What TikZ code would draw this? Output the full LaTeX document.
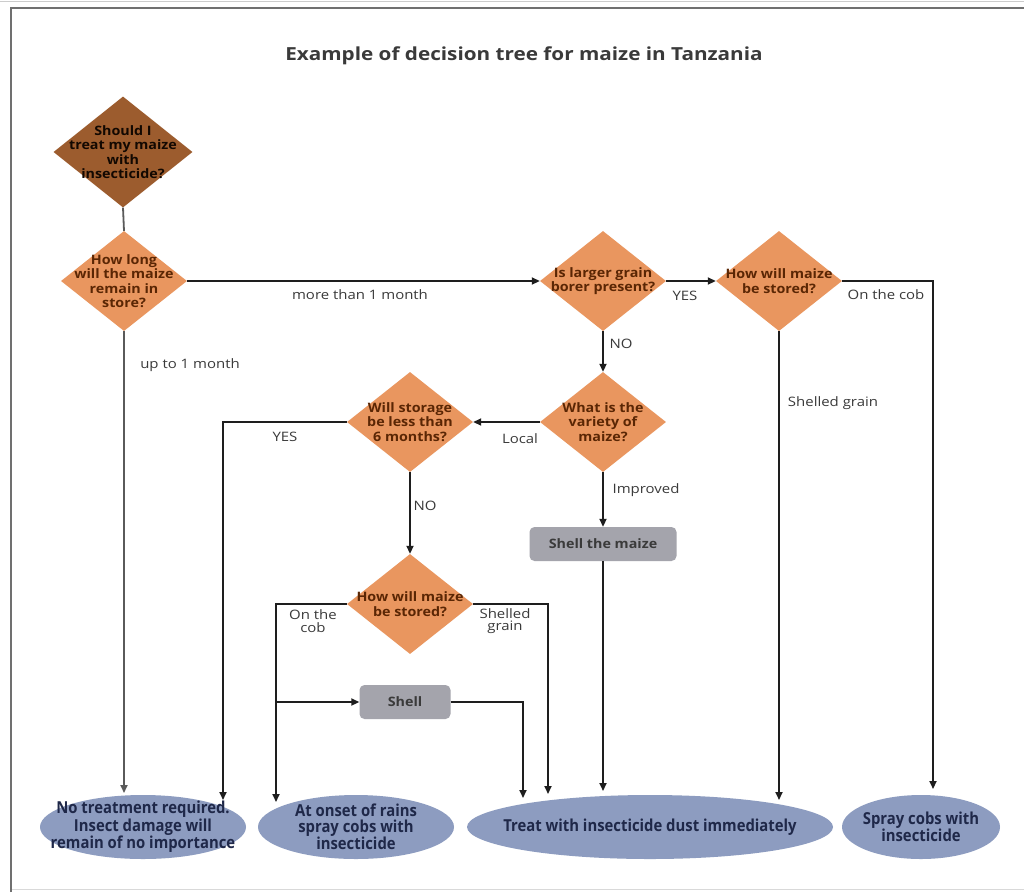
\documentclass[tikz,border=0pt]{standalone}
\usepackage{fontspec}
\setmainfont{Open Sans}
\newfontfamily\lblfont{Open Sans}[FakeStretch=1.15]
\newfontfamily\diafont{Open Sans}[FakeStretch=1.1]
\newfontfamily\elfont{Open Sans}[FakeStretch=0.9]
\usetikzlibrary{shapes.geometric,arrows.meta}
\definecolor{brownD}{HTML}{9C5C2E}
\definecolor{orangeD}{HTML}{E9965F}
\definecolor{greyB}{HTML}{A4A4AC}
\definecolor{blueE}{HTML}{8D9CC0}
\definecolor{brownT}{HTML}{5A2604}
\definecolor{navyT}{HTML}{1F2849}
\definecolor{lineC}{HTML}{1E1E1E}
\definecolor{greyL}{HTML}{5A5A5A}
\definecolor{labelC}{HTML}{3A3A3A}
\definecolor{frameC}{HTML}{707070}
\begin{document}
\begin{tikzpicture}[x=1pt,y=-1pt,
  dia/.style={diamond, fill=orangeD, draw=none, inner sep=0pt, minimum width=126pt, minimum height=100pt},
  dtext/.style={font=\diafont\bfseries\fontsize{13}{14.5}\selectfont, text=brownT, align=center, inner sep=0pt},
  ell/.style={ellipse, fill=blueE, draw=none, inner sep=0pt, minimum height=64pt},
  etext/.style={font=\elfont\bfseries\fontsize{16.5}{15.5}\selectfont, text=navyT, align=center, inner sep=0pt},
  box/.style={rectangle, rounded corners=5pt, fill=greyB, draw=none, minimum height=34pt, inner sep=0pt,
    font=\diafont\bfseries\fontsize{13}{14.5}\selectfont, text=labelC},
  lbl/.style={font=\lblfont\fontsize{13}{14}\selectfont, text=labelC, inner sep=0pt, align=center},
  ln/.style={draw=lineC, line width=1.8pt},
  gln/.style={draw=greyL, line width=1.8pt},
  arr/.style={ln, -{Triangle[length=8pt,width=7pt]}},
  garr/.style={gln, -{Triangle[length=8pt,width=7pt]}}]
\useasboundingbox (0,0) rectangle (1024,892);
\fill[white] (0,0) rectangle (1024,892);
% frame
\draw[black!20, line width=1pt] (0,1.5) -- (1024,1.5);
\draw[black!15, line width=1pt] (11,889) -- (1024,889);
\draw[frameC, line width=2.5pt] (11,892) -- (11,8) -- (1024,8);
% title
\node[font=\lblfont\bfseries\fontsize{18}{20}\selectfont, text=labelC] (title) at (524,56) {Example of decision tree for maize in Tanzania};
% diamonds
\node[dia, fill=brownD, minimum width=139pt, minimum height=111pt] (d1) at (123,152) {};
\node[dtext, text=black!80!brownT] (d1t) at (d1) {Should I\\treat my maize\\with\\insecticide?};
\node[dia] (d2) at (124,281) {};
\node[dtext] (d2t) at (d2) {How long\\will the maize\\remain in\\store?};
\node[dia] (d3) at (603,281) {};
\node[dtext] (d3t) at (d3) {Is larger grain\\borer present?};
\node[dia] (d4) at (779,281) {};
\node[dtext] (d4t) at (d4) {How will maize\\be stored?};
\node[dia] (d5) at (603,422) {};
\node[dtext] (d5t) at (d5) {What is the\\variety of\\maize?};
\node[dia] (d6) at (410,422) {};
\node[dtext] (d6t) at (d6) {Will storage\\be less than\\6 months?};
\node[dia] (d7) at (410,604) {};
\node[dtext] (d7t) at (d7) {How will maize\\be stored?};
% boxes
\node[box, minimum width=147pt] (s1) at (603,544) {Shell the maize};
\node[box, minimum width=91pt] (s2) at (405,702) {Shell};
% ellipses
\node[ell, minimum width=206pt] (e1) at (143,827) {};
\node[etext] (e1t) at (e1) {No treatment required.\\Insect damage will\\remain of no importance};
\node[ell, minimum width=196pt] (e2) at (356,827) {};
\node[etext] (e2t) at (e2) {At onset of rains\\spray cobs with\\insecticide};
\node[ell, minimum width=366pt] (e3) at (650,827) {};
\node[etext] (e3t) at (e3) {Treat with insecticide dust immediately};
\node[ell, minimum width=158pt] (e4) at (921,827) {};
\node[etext] (e4t) at (e4) {Spray cobs with\\insecticide};
% arrow targets
\coordinate (t1) at (124,793);
\coordinate (t2) at (223,800);
\coordinate (t3) at (276,802);
\coordinate (t4) at (523,798);
\coordinate (t5) at (548,794);
\coordinate (t6) at (603,791);
\coordinate (t7) at (779,800);
\coordinate (t8) at (933,789);
\coordinate (j1) at (276,702);
% connectors
\draw[gln] (d1.south) -- (d2.north);
\draw[garr] (d2.south) -- (t1);
\draw[arr] (d2.east) -- (d3.west);
\draw[arr] (d3.east) -- (d4.west);
\draw[arr] (d4.east) -| (t8);
\draw[arr] (d4.south) -- (t7);
\draw[arr] (d3.south) -- (d5.north);
\draw[arr] (d5.west) -- (d6.east);
\draw[arr] (d6.west) -| (t2);
\draw[arr] (d6.south) -- (d7.north);
\draw[arr] (d5.south) -- (s1.north);
\draw[arr] (s1.south) -- (t6);
\draw[arr] (d7.west) -| (t3);
\draw[arr] (d7.east) -| (t5);
\draw[arr] (j1) -- (s2.west);
\draw[arr] (s2.east) -| (t4);
% labels
\node[lbl] (l1) at (360,295) {more than 1 month};
\node[lbl] (l2) at (190,365) {up to 1 month};
\node[lbl] (l3) at (685,296) {YES};
\node[lbl] (l4) at (886,295) {On the cob};
\node[lbl] (l5) at (621,344) {NO};
\node[lbl] (l6) at (833,403) {Shelled grain};
\node[lbl] (l7) at (520,439) {Local};
\node[lbl] (l8) at (285,437) {YES};
\node[lbl] (l9) at (646,490) {Improved};
\node[lbl] (l10) at (425,506) {NO};
\node[lbl, font=\lblfont\fontsize{13}{12.5}\selectfont] (l11) at (313,621) {On the\\cob};
\node[lbl, font=\lblfont\fontsize{13}{12.5}\selectfont] (l12) at (505,621) {Shelled\\grain};
\end{tikzpicture}
\end{document}
